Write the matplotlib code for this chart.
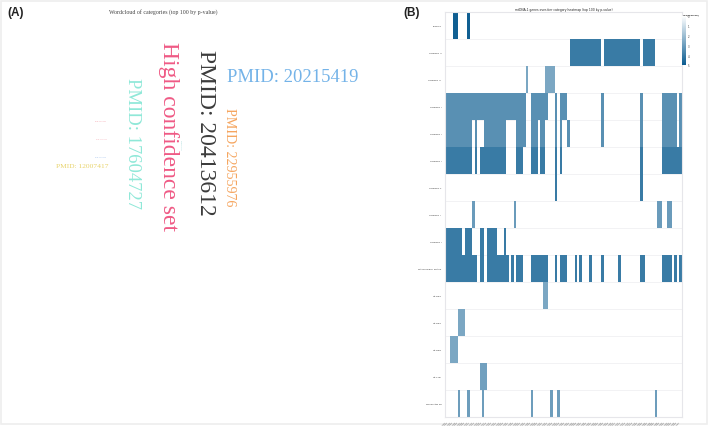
import numpy as np
import matplotlib
matplotlib.use("Agg")
import matplotlib.pyplot as plt
from matplotlib.colors import LinearSegmentedColormap
from matplotlib.patches import Rectangle

W, H = 709, 427
n_cols = 97

row_labels = ["Enzyme", "Complex III", "Complex IV", "Complex I", "Complex I",
              "Complex I", "Complex V", "Complex II", "Complex I",
              "Mitochondrial matrix", "mt-ND6", "mt-ND5", "mt-ND4", "mt-CYB",
              "Monocytes 28"]
row_scores = [4.9, 4.05, 2.7, 3.4, 3.4, 4.05, 4.05, 3.05, 4.05, 4.05, 2.7, 2.7, 2.7, 2.9, 3.0]
row_spans = [
    [(3, 5), (9, 10)],
    [(51, 64), (65, 80), (81, 86)],
    [(33, 34), (41, 45)],
    [(0, 33), (35, 42), (45, 46), (47, 50), (64, 65), (80, 81), (89, 95), (96, 97)],
    [(0, 11), (12, 13), (16, 25), (29, 33), (35, 38), (39, 41), (45, 46), (47, 48),
     (50, 51), (64, 65), (80, 81), (89, 95), (96, 97)],
    [(0, 11), (12, 13), (14, 25), (29, 32), (35, 38), (39, 41), (45, 46), (47, 48),
     (80, 81), (89, 97)],
    [(45, 46), (80, 81)],
    [(11, 12), (28, 29), (87, 89), (91, 93)],
    [(0, 7), (8, 11), (14, 16), (17, 21), (24, 25)],
    [(0, 13), (14, 16), (17, 26), (27, 28), (29, 32), (35, 42), (45, 46), (47, 50),
     (53, 54), (55, 56), (59, 60), (64, 65), (71, 72), (80, 82), (89, 93), (94, 95), (96, 97)],
    [(40, 42)],
    [(5, 8)],
    [(2, 5)],
    [(14, 17)],
    [(5, 6), (9, 10), (15, 16), (35, 36), (43, 44), (46, 47), (86, 87)],
]
col_labels = [f"ENSG{i:03d}" for i in range(1, n_cols + 1)]

cloud_words = ["PMID: 20215419", "PMID: 20413612", "High confidence set", "PMID: 17604727",
               "PMID: 22955976", "PMID: 12007417"]
cloud_sizes = [13.4, 17, 17, 13.4, 10.1, 5.4]
cloud_colors = ["#74b3e8", "#3c3c3c", "#ef5a85", "#8fe8d8", "#f5a55f", "#e8d36a"]
cloud_rot = [0, -90, -90, -90, -90, 0]
cloud_x = [292.5, 205, 168, 133, 229, 82.5]
cloud_y = [78, 133, 137, 143.5, 157.5, 167]

faint_words = ["PMID: 26186194", "PMID: 25416956", "PMID: 23746838", "Monocytes 28"]
faint_colors = ["#f08a96", "#f2a0aa", "#8fb4e8", "#8fd0d0"]
faint_x = [100, 101, 100.5, 180]
faint_y = [121, 140, 158, 145]
faint_rot = [0, 0, 0, -90]

fig = plt.figure(figsize=(W / 100, H / 100), dpi=100, facecolor="white")

def px_axes(l, t, r, b):
    return fig.add_axes([l / W, 1 - b / H, (r - l) / W, (b - t) / H])

# Page overlay: frame and panel A
bg = fig.add_axes([0, 0, 1, 1])
bg.set_xlim(0, W)
bg.set_ylim(H, 0)
bg.axis("off")
bg.add_patch(Rectangle((1, 1.5), W - 3, H - 4, fill=False, ec="#eeeeee", lw=1.2))

serif = "Liberation Serif"
bg.text(163, 12, "Wordcloud of categories (top 100 by p-value)", family=serif,
        fontsize=4.2, color="#444444", ha="center", va="center")
for word, size, color, rot, x, y in zip(cloud_words, cloud_sizes, cloud_colors, cloud_rot, cloud_x, cloud_y):
    bg.text(x, y, word, family=serif, fontsize=size, color=color, rotation=rot,
            ha="center", va="center")
for word, color, x, y, rot in zip(faint_words, faint_colors, faint_x, faint_y, faint_rot):
    bg.text(x, y, word, family=serif, fontsize=1.2, color=color, rotation=rot,
            ha="center", va="center")
for label, x, y in [("(A)", 7, 13), ("(B)", 403, 13)]:
    bg.text(x, y, label, family="Liberation Sans", fontsize=8.5, fontweight="bold",
            color="#222222", ha="left", va="center")

# Panel B heatmap
cmap = LinearSegmentedColormap.from_list("blu", ["#ffffff", "#0b5c90"])
matrix = np.full((len(row_labels), n_cols), np.nan)
for i, (spans, score) in enumerate(zip(row_spans, row_scores)):
    for a, b in spans:
        matrix[i, a:b] = score

ax = px_axes(445.4, 12.7, 681.7, 417.7)
mesh = ax.pcolormesh(np.arange(n_cols + 1), np.arange(len(row_labels) + 1), matrix,
                     cmap=cmap, vmin=0, vmax=5, linewidth=0)
ax.set_ylim(len(row_labels), 0)
ax.set_xlim(0, n_cols)
ax.hlines(np.arange(1, len(row_labels)), 0, n_cols, color="#f2f2f4", lw=0.7, zorder=0)
for s in ax.spines.values():
    s.set_color("#e6e6ea")
    s.set_linewidth(0.8)
ax.set_yticks(np.arange(len(row_labels)) + 0.5)
ax.set_yticklabels(row_labels, fontsize=1.6, color="#333333")
ax.set_xticks(np.arange(n_cols) + 0.5)
ax.set_xticklabels(col_labels, fontsize=1.3, rotation=45, ha="right", color="#555555")
ax.tick_params(length=0, pad=3)
ax.set_title("mtDNA-1 genes over-tier category heatmap (top 100 by p-value)", fontsize=2.2,
             color="#222222", pad=1.5)

cax = px_axes(682, 17, 686, 66)
cb = fig.colorbar(mesh, cax=cax)
cax.invert_yaxis()
cb.set_ticks([0, 1, 2, 3, 4, 5])
cb.ax.tick_params(labelsize=1.8, length=0, pad=1.5, colors="#333333")
cb.outline.set_visible(False)
bg.text(689.5, 15, "-log10(p-value)", fontsize=1.6, fontweight="bold", color="#222222",
        ha="center", va="center")

fig.savefig("out.png", dpi=100)
